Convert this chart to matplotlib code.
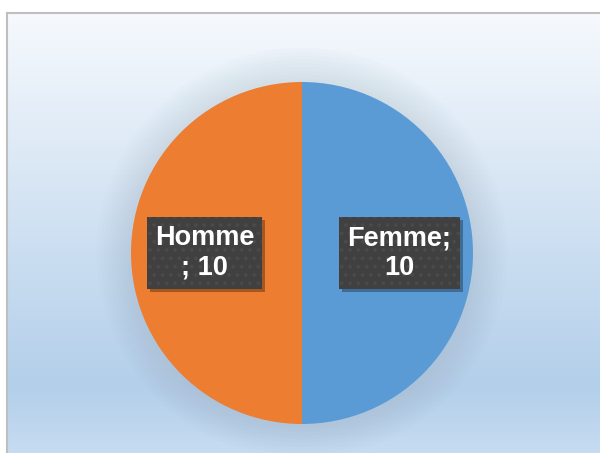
import matplotlib
matplotlib.use("Agg")
import matplotlib.pyplot as plt
import numpy as np
from matplotlib.colors import LinearSegmentedColormap
from matplotlib.patches import Circle, Rectangle

labels = ["Femme", "Homme"]
values = [10, 10]
colors = ["#5b9bd5", "#ed7d31"]

plt.rcParams['font.family'] = ['Liberation Sans', 'DejaVu Sans']
plt.rcParams['hatch.color'] = '#575757'
plt.rcParams['hatch.linewidth'] = 1.5

W, H = 600, 453
fig = plt.figure(figsize=(W/100, H/100), dpi=100)
fig.patch.set_facecolor("white")

# background panel with gradient
bx, by = 7, 13
bg = fig.add_axes([bx/W, 0, 1 - bx/W, (H-by)/H])
cmap = LinearSegmentedColormap.from_list("bg", [(0, "#c6dcf1"), (0.15, "#b3cfea"), (1, "#f6f9fd")])
grad = np.linspace(0, 1, 256).reshape(-1, 1)
bg.imshow(grad, aspect="auto", cmap=cmap, origin="lower", extent=[0, 1, 0, 1])
bg.set_xlim(0, 1); bg.set_ylim(0, 1)
bg.set_xticks([]); bg.set_yticks([])
for s in ["right", "bottom"]:
    bg.spines[s].set_visible(False)
for s in ["left", "top"]:
    bg.spines[s].set_color("#bfbfbf")
    bg.spines[s].set_linewidth(1.5)

# pie axes
cx, cy, r = 302, 253, 171
ext = 1.3
half = r * ext
ax = fig.add_axes([(cx-half)/W, (H-cy-half)/H, 2*half/W, 2*half/H])
ax.axis("off")

# soft glow shadow
for rr in np.linspace(1.0, 1.2, 10):
    ax.add_patch(Circle((0, 0), rr, color="#8a9db0", alpha=0.025, lw=0, zorder=0))

wedges, texts = ax.pie(values, colors=colors, startangle=90, counterclock=False,
                       labels=[f"{labels[0]};\n{values[0]}", f"{labels[1]}\n; {values[1]}"],
                       labeldistance=0.57, radius=1.0,
                       wedgeprops=dict(linewidth=0))
ax.set_xlim(-ext, ext); ax.set_ylim(-ext, ext)
ax.set_aspect("equal")
for t in texts:
    t.set(fontsize=19.5, fontweight="bold", ha="center", va="center", linespacing=1.2,
          color="white", zorder=4)
    t.set_bbox(dict(boxstyle="square,pad=0.3", facecolor="#404040", edgecolor="#4a4a4a",
                    hatch="..", linewidth=0))

# drop shadows behind label boxes
fig.canvas.draw()
for t in texts:
    bb = t.get_bbox_patch().get_window_extent()
    fig.patches.append(Rectangle((bb.x0 + 3, bb.y0 - 3), bb.width, bb.height,
                                 transform=None, facecolor="black", alpha=0.3,
                                 linewidth=0, zorder=3, figure=fig))
for p in fig.patches:
    p.set_zorder(3)
# put shadows into the pie axes draw order
shadows = list(fig.patches)
fig.patches.clear()
for s in shadows:
    s.remove() if s.axes else None
    ax.add_artist(s)
    s.set_transform(matplotlib.transforms.IdentityTransform())

fig.savefig("out.png", dpi=100)
